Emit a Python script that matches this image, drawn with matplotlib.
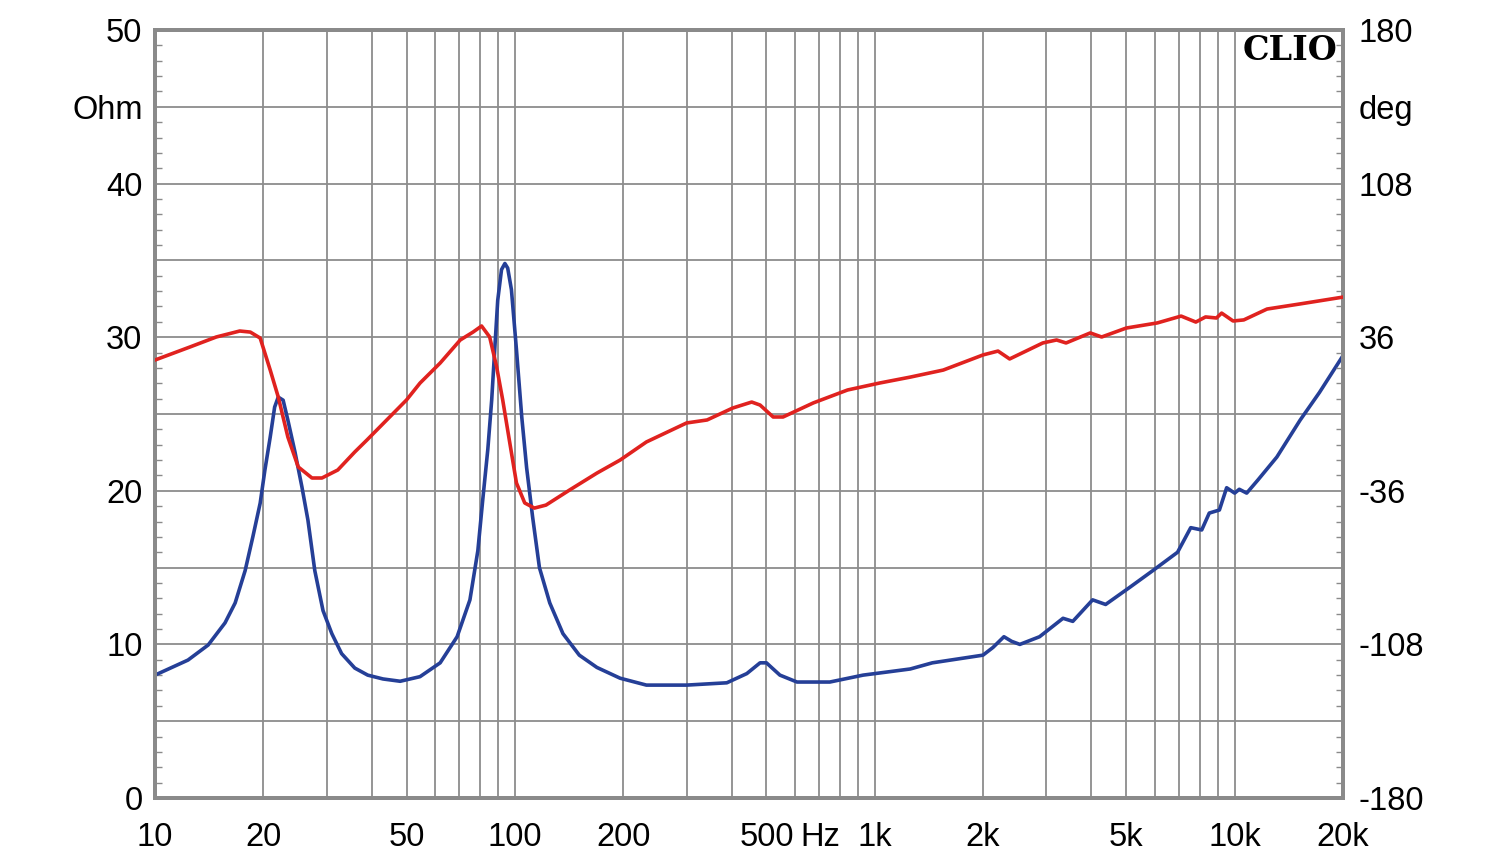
import matplotlib
matplotlib.use("Agg")
import matplotlib.pyplot as plt
from matplotlib.ticker import FixedLocator, FixedFormatter, NullFormatter

# ---- data ----
imp_freq = [10, 12.35, 14.05, 15.65, 16.7, 17.8, 18.7, 19.6, 20.2, 20.9, 21.5, 22.0, 22.7,
            23.4, 24.5, 25.6, 26.6, 27.8, 29.3, 31.0, 33.0, 35.9, 39, 43, 48, 54.5, 62,
            69.1, 75, 78.9, 81.4, 84.1, 86.2, 87.9, 89.6, 91.8, 93.8, 95.5, 97.8, 101,
            104.5, 107.8, 112, 117, 125, 136, 151, 169, 196, 232, 300, 388, 441, 480,
            500, 545, 608, 750, 928, 1080, 1255, 1445, 1998, 2130, 2285, 2400, 2530,
            2870, 3335, 3550, 4030, 4380, 5100, 5920, 6940, 7550, 8100, 8500, 9070,
            9500, 10000, 10300, 10800, 11600, 13100, 15200, 17200, 20000]
imp_ohm = [8.0, 8.98, 9.96, 11.4, 12.7, 14.8, 17.0, 19.2, 21.35, 23.5, 25.45, 26.1, 25.9,
           24.6, 22.5, 20.25, 18.1, 14.8, 12.2, 10.7, 9.4, 8.46, 8.0, 7.75, 7.6, 7.9, 8.8,
           10.5, 12.9, 16.1, 19.4, 22.7, 25.9, 29.2, 32.4, 34.4, 34.8, 34.5, 33.1, 29.2,
           24.8, 21.5, 18.3, 15.0, 12.7, 10.7, 9.3, 8.5, 7.8, 7.35, 7.35, 7.5, 8.1, 8.8,
           8.8, 8.0, 7.55, 7.55, 8.0, 8.2, 8.4, 8.8, 9.3, 9.8, 10.5, 10.2, 10.0,
           10.5, 11.7, 11.5, 12.9, 12.6, 13.7, 14.8, 16.0, 17.6, 17.45, 18.55, 18.75,
           20.2, 19.85, 20.1, 19.85, 20.7, 22.2, 24.6, 26.4, 28.8]

ph_freq = [10, 12.5, 14.8, 17.2, 18.4, 19.6, 20.9, 22.0, 23.4, 25.0, 27.3, 29.1, 32.2, 35.9,
           38.8, 50, 54.5, 62, 70.5, 76.5, 80.8, 85.1, 89, 92.5, 96.5, 101, 106.5, 113.3,
           122, 142, 169, 196, 232, 300, 342, 403, 455, 480, 522, 556, 675, 840, 1030,
           1255, 1550, 2000, 2200, 2370, 2930, 3200, 3400, 3970, 4270, 5000, 6100, 7100,
           7800, 8300, 8900, 9200, 9900, 10600, 12300, 15200, 20000]
ph_deg = [25.3, 31.4, 36.1, 38.9, 38.4, 35.6, 20.6, 8.0, -10.8, -24.8, -30.0, -30.0, -26.25, -17.8,
          -12.2, 6.6, 14.5, 23.9, 34.7, 38.4, 41.25, 36.1, 22.0, 6.6, -12.2, -32.3, -41.7, -44.1,
          -42.7, -35.6, -27.7, -21.6, -13.1, -4.2, -2.8, 2.8, 5.6, 4.2, -1.4, -1.4, 5.2, 11.25, 14.5,
          17.3, 20.6, 27.7, 29.5, 25.8, 33.3, 34.7, 33.3, 38.0, 36.1, 40.3, 42.7, 45.9,
          43.1, 45.5, 45.0, 47.3, 43.6, 44.1, 49.2, 51.6, 54.8]

x_label_pos = [10, 20, 50, 100, 200, 500, 707, 1000, 2000, 5000, 10000, 20000]
x_labels = ["10", "20", "50", "100", "200", "500", "Hz", "1k", "2k", "5k", "10k", "20k"]
left_ticks = [0, 5, 10, 15, 20, 25, 30, 35, 40, 45, 50]
left_labels = ["0", "", "10", "", "20", "", "30", "", "40", "Ohm", "50"]
right_ticks = [-180, -144, -108, -72, -36, 0, 36, 72, 108, 144, 180]
right_labels = ["-180", "", "-108", "", "-36", "", "36", "", "108", "deg", "180"]

# ---- style ----
plt.rcParams["font.family"] = ["Liberation Sans", "DejaVu Sans"]
GRID = "#8c8c8c"
SPINE = "#8a8a8a"
BLUE = "#253f97"
RED = "#e0221f"
FS = 23.5

fig = plt.figure(figsize=(15, 8.64), dpi=100)
ax = fig.add_axes([155 / 1500, 66 / 864, 1188 / 1500, 768 / 864])
ax2 = ax.twinx()

ax.set_xscale("log")
ax.set_xlim(10, 20000)
ax.set_ylim(0, 50)
ax2.set_ylim(-180, 180)

# vertical grid at every 1..9 x decade
grid_x = [m * 10 ** d for d in range(1, 5) for m in range(1, 10) if m * 10 ** d <= 20000]
ax.xaxis.remove_overlapping_locs = False
ax.xaxis.set_minor_locator(FixedLocator(grid_x))
ax.xaxis.set_minor_formatter(NullFormatter())
ax.xaxis.set_major_locator(FixedLocator(x_label_pos))
ax.xaxis.set_major_formatter(FixedFormatter(x_labels))
ax.tick_params(axis="x", which="both", length=0, labelsize=FS, pad=17, colors="black")
ax.grid(axis="x", which="minor", color=GRID, linewidth=1.3)

ax.yaxis.set_major_locator(FixedLocator(left_ticks))
ax.yaxis.set_major_formatter(FixedFormatter(left_labels))
ax.yaxis.set_minor_locator(FixedLocator(list(range(0, 51))))
ax.tick_params(axis="y", which="major", length=0, labelsize=FS, pad=9)
ax.tick_params(axis="y", which="minor", direction="in", length=5, width=1, color=SPINE)
ax.grid(axis="y", which="major", color=GRID, linewidth=1.3)

ax2.yaxis.set_major_locator(FixedLocator(right_ticks))
ax2.yaxis.set_major_formatter(FixedFormatter(right_labels))
ax2.yaxis.set_minor_locator(FixedLocator([-180 + 7.2 * i for i in range(51)]))
ax2.tick_params(axis="y", which="major", length=0, labelsize=FS, pad=11)
ax2.tick_params(axis="y", which="minor", direction="in", length=5, width=1, color=SPINE)

for a in (ax, ax2):
    for s in a.spines.values():
        s.set_color(SPINE)
        s.set_linewidth(2.8)

ax.plot(imp_freq, imp_ohm, color=BLUE, linewidth=2.6, zorder=3, solid_joinstyle="round")
ax2.plot(ph_freq, ph_deg, color=RED, linewidth=2.6, zorder=3, solid_joinstyle="round")

ax2.text(0.995, (798 - 60) / 768, "CLIO", transform=ax.transAxes, ha="right", va="baseline",
         fontsize=24, fontweight="bold", family="DejaVu Serif", color="black")

fig.savefig("out.png", dpi=100)
